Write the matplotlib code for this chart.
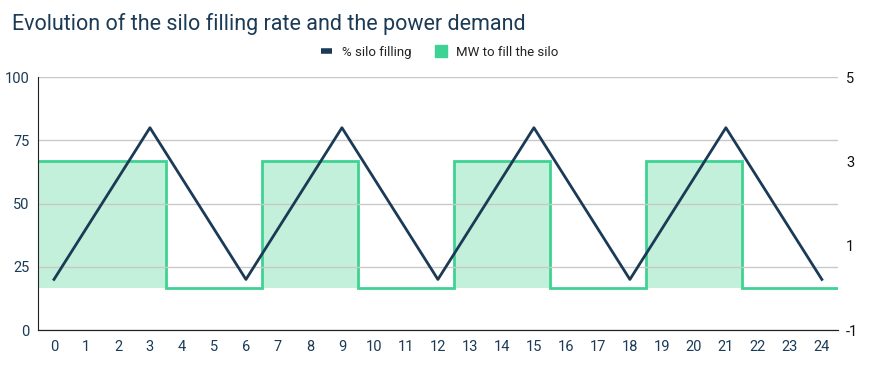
import numpy as np
import matplotlib
matplotlib.use('Agg')
import matplotlib.pyplot as plt
from matplotlib.lines import Line2D
from matplotlib.patches import Patch

plt.rcParams['font.family'] = ['Roboto', 'DejaVu Sans']
plt.rcParams['axes.unicode_minus'] = False

hours = list(range(25))
silo_pct = [20, 40, 60, 80, 60, 40, 20, 40, 60, 80, 60, 40, 20,
            40, 60, 80, 60, 40, 20, 40, 60, 80, 60, 40, 20]
mw = [3, 3, 3, 3, 0, 0, 0, 3, 3, 3, 0, 0, 0,
      3, 3, 3, 0, 0, 0, 3, 3, 3, 0, 0, 0]
left_ticks = [0, 25, 50, 75, 100]
right_ticks = [-1, 1, 3, 5]

navy = '#1b3a55'
green = '#3ed394'
green_fill = '#c2f0db'

fig = plt.figure(figsize=(8.79, 3.67), dpi=100)
ax = fig.add_axes([0.0432, 0.1008, 0.91, 0.689])
ax2 = ax.twinx()

edges = np.arange(-0.5, len(mw))
ax2.stairs(mw, edges, baseline=0, fill=True, color=green_fill, lw=0, zorder=1)
ax2.stairs(mw, edges, baseline=None, color=green, lw=2, zorder=2)
ax2.set_ylim(-1, 5)
ax2.set_yticks(right_ticks)

ax.set_zorder(ax2.get_zorder() + 1)
ax.patch.set_visible(False)
ax.plot(hours, silo_pct, color=navy, lw=2, zorder=3)
ax.set_ylim(0, 100)
ax.set_yticks(left_ticks)
ax.set_xlim(-0.5, 24.5)
ax.set_xticks(hours)
ax.grid(axis='y', color='#c8c8c8', lw=1)
ax.set_axisbelow(True)

for a in (ax, ax2):
    for s in ('top', 'right'):
        a.spines[s].set_visible(False)
    a.spines['left'].set_visible(a is ax)
    a.spines['bottom'].set_color('#222222')
    a.spines['left'].set_color('#222222')
ax.tick_params(axis='y', length=0, pad=6, labelsize=10.5, labelcolor=navy)
ax.tick_params(axis='x', length=0, pad=7, labelsize=10.5, labelcolor=navy)
ax2.tick_params(axis='y', length=0, pad=6, labelsize=10.5, labelcolor='#111111')

fig.text(0.0137, 0.935, 'Evolution of the silo filling rate and the power demand',
         fontsize=15.5, color=navy, va='center', ha='left')

handles = [Line2D([], [], color=navy, lw=4, solid_capstyle='butt'),
           Patch(facecolor=green, edgecolor=green)]
fig.legend(handles, ['% silo filling', 'MW to fill the silo'],
           loc='center', bbox_to_anchor=(0.5, 0.858), ncol=2, frameon=False,
           fontsize=9.5, handlelength=0.9, handleheight=1.0, columnspacing=1.8,
           handletextpad=0.7, labelcolor='#222222')

fig.savefig('out.png', dpi=100)
